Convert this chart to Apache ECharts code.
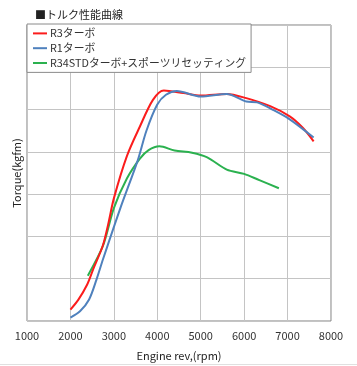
<!DOCTYPE html>
<html>
<head>
<meta charset="utf-8">
<script src="https://cdn.jsdelivr.net/npm/echarts@6/dist/echarts.min.js"></script>
<style>
html,body{margin:0;padding:0;background:#fff;}
#c{width:357px;height:366px;}
</style>
</head>
<body>
<div id="c"></div>
<script>
const seriesNames = ['R3ターボ', 'R1ターボ', 'R34STDターボ+スポーツリセッティング'];
const xTicks = [1000, 2000, 3000, 4000, 5000, 6000, 7000, 8000];

const r3Rpm    = [2000, 2180, 2380, 2530, 2745, 2870, 3000, 3300, 3600, 3900, 4150, 4600, 5000, 5600, 6050, 6600, 7050, 7350, 7600];
const r3Torque = [2.7, 5.0, 8.5, 12.4, 17.8, 22.9, 29.0, 39.0, 46.0, 52.3, 54.5, 53.9, 53.3, 53.7, 52.7, 50.8, 48.4, 45.7, 42.5];

const r1Rpm    = [2000, 2220, 2430, 2600, 2750, 3150, 3550, 3750, 4000, 4200, 4450, 5000, 5600, 6050, 6300, 6650, 7050, 7600];
const r1Torque = [0.8, 2.3, 5.1, 9.8, 14.6, 26.7, 38.0, 45.0, 51.2, 53.5, 54.4, 53.1, 53.7, 51.9, 51.7, 50.0, 47.7, 43.4];

const stdRpm    = [2400, 2750, 3000, 3300, 3600, 3800, 4050, 4400, 4800, 5150, 5600, 6000, 6350, 6800];
const stdTorque = [10.7, 17.8, 26.7, 33.7, 38.4, 40.4, 41.3, 40.3, 39.8, 38.7, 35.8, 34.8, 33.3, 31.4];

const colors = ['#fb1c1c', '#4f81bd', '#2bb14f'];
function zip(a, b) { return a.map((v, i) => [v, b[i]]); }

const chart = echarts.init(document.getElementById('c'), null, {renderer: 'canvas'});
const font = '"Noto Sans CJK JP", "Noto Sans", sans-serif';
chart.setOption({
  animation: false,
  textStyle: {fontFamily: font},
  title: {
    text: '■トルク性能曲線',
    left: 30, top: 4,
    textStyle: {fontSize: 11, fontWeight: 'normal', color: '#222', fontFamily: font}
  },
  legend: {
    orient: 'vertical',
    left: 27, top: 24,
    padding: [4, 5, 4, 6],
    itemGap: 4,
    itemWidth: 14, itemHeight: 2,
    backgroundColor: '#fff',
    borderColor: '#8a8a8a', borderWidth: 1,
    icon: 'rect',
    textStyle: {fontSize: 10.8, color: '#333', fontFamily: font, padding: [0, 0, 0, -2]},
    data: seriesNames
  },
  grid: {left: 27, right: 26, top: 25, bottom: 41, show: true, borderColor: '#808080', borderWidth: 1, backgroundColor: 'transparent'},
  xAxis: {
    type: 'value', min: xTicks[0], max: xTicks[xTicks.length - 1], interval: 1000,
    name: 'Engine rev,(rpm)', nameLocation: 'middle', nameGap: 29,
    nameTextStyle: {fontSize: 11, color: '#222'},
    axisLine: {show: false}, axisTick: {show: false},
    axisLabel: {fontSize: 11, color: '#333', margin: 9, formatter: v => String(v)},
    splitLine: {lineStyle: {color: '#c4c4c4', width: 1}}
  },
  yAxis: {
    type: 'value', min: 0, max: 70, interval: 10,
    name: 'Torque(kgfm)', nameLocation: 'middle', nameGap: 5, nameRotate: 90,
    nameTextStyle: {fontSize: 11, color: '#222'},
    axisLine: {show: false}, axisTick: {show: false},
    axisLabel: {show: false},
    splitLine: {lineStyle: {color: '#c4c4c4', width: 1}}
  },
  series: [
    {name: seriesNames[0], type: 'line', data: zip(r3Rpm, r3Torque), smooth: 0.3, showSymbol: false, color: colors[0], lineStyle: {width: 2}, z: 3},
    {name: seriesNames[1], type: 'line', data: zip(r1Rpm, r1Torque), smooth: 0.3, showSymbol: false, color: colors[1], lineStyle: {width: 2}, z: 4},
    {name: seriesNames[2], type: 'line', data: zip(stdRpm, stdTorque), smooth: 0.3, showSymbol: false, color: colors[2], lineStyle: {width: 2}, z: 2}
  ],
  graphic: [
    {type: 'line', shape: {x1: 0, y1: 364.5, x2: 357, y2: 364.5}, style: {stroke: '#e0e0e0', lineWidth: 1}}
  ]
});
</script>
</body>
</html>
